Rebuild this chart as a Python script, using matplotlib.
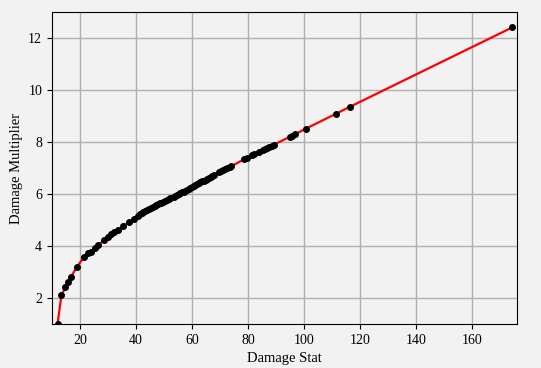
import matplotlib
matplotlib.use("Agg")
import matplotlib.pyplot as plt

damage_stat = [12.0, 13.4, 14.75, 15.8, 16.8, 18.9, 21.5, 23.0, 23.9, 25.4, 26.6, 28.5,
               29.9, 31.1, 32.3, 33.5, 35.5, 37.5, 39.2,
               40.6, 41.3, 42.0, 42.6, 43.3, 44.0, 44.6, 45.3, 46.0, 46.6, 47.2, 47.8,
               48.4, 49.0, 49.7, 50.3, 51.0,
               51.6, 52.2, 53.4, 54.0, 54.6, 55.2, 55.8, 56.4, 57.0, 57.6, 58.2, 58.8,
               59.4, 60.0, 60.6, 61.2, 61.8, 62.4, 63.0, 63.6, 64.2, 64.8, 65.4, 66.0,
               66.6, 67.2, 67.7,
               69.5, 70.3, 71.0, 71.8, 72.6, 73.4, 73.9,
               78.6, 79.6, 81.4, 82.0, 83.8, 85.2, 86.0, 86.8, 87.6, 88.4, 89.2,
               94.9, 95.5, 96.9, 100.7, 111.2, 116.2, 174.2]
damage_mult = [1.0, 2.10, 2.40, 2.60, 2.80, 3.20, 3.57, 3.71, 3.77, 3.93, 4.03, 4.22,
               4.36, 4.44, 4.53, 4.63, 4.78, 4.92, 5.05,
               5.16, 5.21, 5.25, 5.29, 5.34, 5.38, 5.42, 5.47, 5.51, 5.54, 5.57, 5.61,
               5.64, 5.67, 5.70, 5.74, 5.77,
               5.80, 5.83, 5.89, 5.92, 5.95, 5.98, 6.02, 6.06, 6.09, 6.13, 6.17, 6.21,
               6.24, 6.28, 6.31, 6.35, 6.38, 6.41, 6.45, 6.48, 6.51, 6.55, 6.58, 6.62,
               6.65, 6.69, 6.73,
               6.83, 6.88, 6.92, 6.96, 7.00, 7.04, 7.06,
               7.34, 7.40, 7.49, 7.52, 7.62, 7.69, 7.73, 7.77, 7.82, 7.86, 7.90,
               8.20, 8.23, 8.31, 8.52, 9.08, 9.35, 12.41]

plt.rcParams['font.family'] = ['Liberation Serif', 'DejaVu Serif']
bg = '#f2f2f2'
fig = plt.figure(figsize=(5.41, 3.68), dpi=100, facecolor=bg)
ax = fig.add_axes([0.096, 0.12, 0.86, 0.847])
ax.set_facecolor(bg)
ax.plot(damage_stat, damage_mult, color='red', linewidth=1.6, zorder=2)
ax.scatter(damage_stat, damage_mult, color='black', s=16, zorder=3)
ax.set_xlim(10, 176)
ax.set_ylim(1, 13)
ax.set_xticks([20, 40, 60, 80, 100, 120, 140, 160])
ax.set_yticks([2, 4, 6, 8, 10, 12])
ax.grid(True, color='#b0b0b0', linewidth=1.0, zorder=0)
ax.set_axisbelow(True)
ax.tick_params(labelsize=10)
ax.set_xlabel('Damage Stat', fontsize=10.5)
ax.set_ylabel('Damage Multiplier', fontsize=10.5)
fig.savefig('out.png', dpi=100, facecolor=bg)
